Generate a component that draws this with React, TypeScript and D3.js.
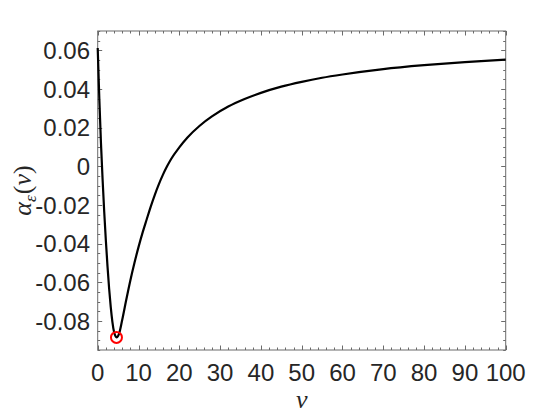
import { useEffect, useRef } from "react";
import * as d3 from "d3";

// curve
const nu = [
    0, 0.4, 0.8, 1.2, 1.6, 2, 2.4, 2.8, 3.2, 3.6, 4, 4.4, 4.6, 5.2, 6, 7, 8, 9,
    10, 11, 12, 13, 14, 15, 16, 17, 18, 20, 22, 25, 28, 32, 36, 40, 45, 50, 55,
    60, 70, 80, 90, 100,
];
const alpha = [
    0.0612, 0.0348, 0.012, -0.0068, -0.0236, -0.0384, -0.0516, -0.0632,
    -0.0728, -0.0804, -0.0856, -0.088, -0.0885, -0.0868, -0.0795, -0.069,
    -0.059, -0.05, -0.0418, -0.0343, -0.0275, -0.0208, -0.0147, -0.0092,
    -0.0043, 0.0, 0.0038, 0.0098, 0.0149, 0.021, 0.0258, 0.0309, 0.0348, 0.038,
    0.0412, 0.0437, 0.0458, 0.0475, 0.0503, 0.0523, 0.0539, 0.0552,
];
const minPoint = [4.6, -0.0885];

const xTicks = [0, 10, 20, 30, 40, 50, 60, 70, 80, 90, 100];
const yTicks = [-0.08, -0.06, -0.04, -0.02, 0, 0.02, 0.04, 0.06];

function AlphaChart() {
    const svgRef = useRef<SVGSVGElement>(null);

    useEffect(() => {
        const Width = 558;
        const Height = 419;
        const Margin = { top: 31, right: 52.3, bottom: 69, left: 97.7 };

        const svg = d3.select(svgRef.current);
        svg.selectAll("*").remove();

        const xScale = d3
            .scaleLinear()
            .domain([0, 100])
            .range([Margin.left, Width - Margin.right]);
        const yScale = d3
            .scaleLinear()
            .domain([-0.095, 0.07])
            .range([Height - Margin.bottom, Margin.top]);

        const axisColor = "#6b6b6b";
        const textColor = "#262626";
        const font = "'Liberation Sans', Arial, Helvetica, sans-serif";

        const [x0, x1] = xScale.range();
        const [y0, y1] = yScale.range(); // y0 bottom, y1 top

        // ticks (inward, all four sides)
        const ticks = svg.append("g").attr("stroke", axisColor).attr("stroke-width", 1);
        const xMinor = d3.range(0, 100.01, 2);
        const yMinor = d3.range(-0.095, 0.0701, 0.005);
        xMinor.forEach((v) => {
            const major = xTicks.includes(Math.round(v));
            const len = major ? 4.5 : 2.5;
            const x = Math.round(xScale(v)) + 0.5;
            ticks.append("line").attr("x1", x).attr("x2", x).attr("y1", y0).attr("y2", y0 - len);
            ticks.append("line").attr("x1", x).attr("x2", x).attr("y1", y1).attr("y2", y1 + len);
        });
        yMinor.forEach((v) => {
            const major = yTicks.some((t) => Math.abs(t - v) < 1e-6);
            const len = major ? 4.5 : 2.5;
            const y = Math.round(yScale(v)) + 0.5;
            ticks.append("line").attr("y1", y).attr("y2", y).attr("x1", x0).attr("x2", x0 + len);
            ticks.append("line").attr("y1", y).attr("y2", y).attr("x1", x1).attr("x2", x1 - len);
        });

        // box
        svg.append("rect")
            .attr("x", x0)
            .attr("y", y1)
            .attr("width", x1 - x0)
            .attr("height", y0 - y1)
            .attr("fill", "none")
            .attr("stroke", axisColor)
            .attr("stroke-width", 1);

        // tick labels
        svg.append("g")
            .selectAll("text")
            .data(xTicks)
            .join("text")
            .attr("x", (d) => xScale(d))
            .attr("y", 381)
            .attr("text-anchor", "middle")
            .attr("font-family", font)
            .attr("font-size", 24)
            .attr("fill", textColor)
            .text((d) => String(d));

        svg.append("g")
            .selectAll("text")
            .data(yTicks)
            .join("text")
            .attr("x", 90)
            .attr("y", (d) => yScale(d))
            .attr("dy", "0.36em")
            .attr("text-anchor", "end")
            .attr("font-family", font)
            .attr("font-size", 24)
            .attr("fill", textColor)
            .text((d) => (Math.abs(d) < 1e-9 ? "0" : d.toFixed(2)));

        // curve
        const myLine = d3
            .line<number>()
            .x((d, i) => xScale(nu[i]))
            .y((d) => yScale(d))
            .curve(d3.curveMonotoneX);

        svg.append("path")
            .datum(alpha)
            .attr("d", myLine)
            .attr("fill", "none")
            .attr("stroke", "#000")
            .attr("stroke-width", 2.2);

        // minimum marker
        svg.append("circle")
            .attr("cx", xScale(minPoint[0]))
            .attr("cy", yScale(minPoint[1]))
            .attr("r", 5.5)
            .attr("fill", "none")
            .attr("stroke", "#ff0000")
            .attr("stroke-width", 2);

        // axis labels
        const serif = "'Liberation Serif', 'DejaVu Serif', serif";
        svg.append("text")
            .attr("x", (x0 + x1) / 2)
            .attr("y", 408)
            .attr("text-anchor", "middle")
            .attr("font-family", serif)
            .attr("font-style", "italic")
            .attr("font-size", 26)
            .attr("fill", textColor)
            .text("ν");

        const yLabel = svg
            .append("text")
            .attr("transform", `translate(31, ${(y0 + y1) / 2}) rotate(-90)`)
            .attr("text-anchor", "middle")
            .attr("font-family", serif)
            .attr("font-size", 26)
            .attr("fill", textColor);
        yLabel.append("tspan").attr("font-style", "italic").text("α");
        yLabel
            .append("tspan")
            .attr("font-style", "italic")
            .attr("font-size", 17)
            .attr("dy", 5)
            .text("ε");
        yLabel.append("tspan").attr("dy", -5).attr("dx", 1).text("(");
        yLabel.append("tspan").attr("font-style", "italic").text("ν");
        yLabel.append("tspan").text(")");
    }, []);

    return (
        <svg
            ref={svgRef}
            width={558}
            height={419}
            style={{ position: "absolute", left: 0, top: 0, background: "#fff" }}
        ></svg>
    );
}

export default function App() {
    return <AlphaChart />;
}
